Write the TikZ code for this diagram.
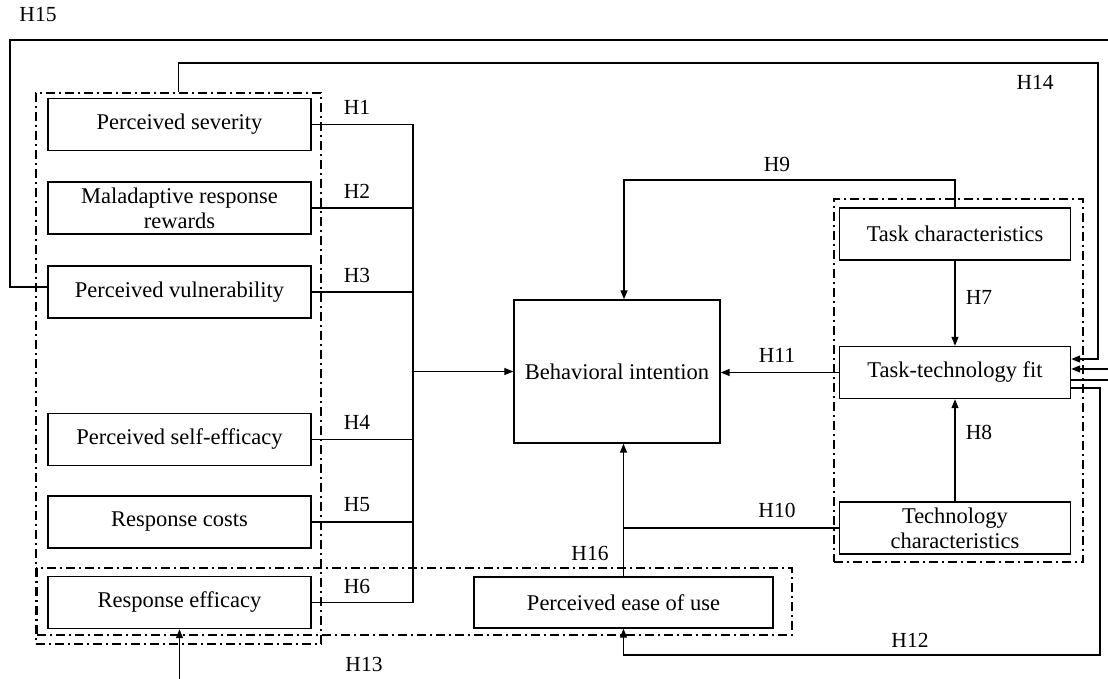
\documentclass[tikz,border=0pt]{standalone}
\usepackage{fontspec}
\setmainfont{Liberation Serif}
\usetikzlibrary{arrows.meta}
\begin{document}
\begin{tikzpicture}[x=1pt,y=-1pt,
  every node/.style={font=\fontsize{22.5}{25}\selectfont, inner sep=0pt},
  box/.style={draw, line width=1.4pt, align=center, minimum height=52pt},
  lbox/.style={box, minimum width=263pt},
  rbox/.style={box, minimum width=231pt},
  grp/.style={draw, line width=1.7pt, dash pattern=on 9pt off 4pt on 2pt off 4pt, minimum width=#1},
  link/.style={line width=1.3pt},
  arr/.style={link, -{Triangle[length=9pt,width=7pt]}},
  hyp/.style={font=\fontsize{21.5}{24}\selectfont}
]
\useasboundingbox (0,0) rectangle (1108,679);

% protection-motivation constructs
\node[lbox] (sev)  at (179.5,124.5) {Perceived severity};
\node[lbox] (mal)  at (179.5,208)   {Maladaptive response\\rewards};
\node[lbox] (vul)  at (179.5,292)   {Perceived vulnerability};
\node[lbox] (self) at (179.5,439.5) {Perceived self-efficacy};
\node[lbox] (cost) at (179.5,522)   {Response costs};
\node[lbox] (eff)  at (179.5,602.5) {Response efficacy};

% central construct and ease of use
\node[box, minimum width=206pt, minimum height=143pt] (bi) at (617,371.5) {Behavioral intention};
\node[box, minimum width=299pt, minimum height=51pt] (ease) at (623.5,602.5) {Perceived ease of use};

% task-technology fit constructs
\node[rbox] (tc)    at (955,234)   {Task characteristics};
\node[rbox] (ttf)   at (955,372.5) {Task-technology fit};
\node[rbox] (techc) at (955,528)   {Technology\\characteristics};

% grouping frames
\node[grp=285pt, minimum height=551pt] (pmt)  at (178.5,368.5) {};
\node[grp=755pt, minimum height=67pt]  (tam)  at (414.5,601.5) {};
\node[grp=249pt, minimum height=363pt] (ttfg) at (958.5,380.5) {};

% H1--H6: bus into behavioral intention
\coordinate (bus) at (413,124.5);
\foreach \n in {sev,mal,vul,self,cost,eff}
  \draw[link] (\n.east) -- (\n.east -| bus);
\draw[link] (sev.east -| bus) -- (eff.east -| bus);
\draw[arr] (bus |- bi.west) -- (bi.west);

% H7, H8, H11
\draw[arr] (tc.south) -- (ttf.north);
\draw[arr] (techc.north) -- (ttf.south);
\draw[arr] (ttf.west) -- (ttf.west -| bi.east);

% H9
\coordinate (h9c) at (624,180);
\draw[arr] (tc.north) |- (h9c) -- (h9c |- bi.north);

% H16 and H10
\draw[arr] (ease.north) -- (ease.north |- bi.south);
\draw[link] (techc.west) -- (techc.west -| ease.north);

% H12
\coordinate (h12c) at (1100,655);
\draw[arr] ([yshift=-15.5pt]ttf.east) -| (h12c) -| (ease.south);

% H14
\coordinate (h14c) at (1098,63);
\draw[arr] (pmt.north) |- (h14c) |- ([yshift=13.5pt]ttf.east);

% H15
\coordinate (h15r) at (1108,40);
\coordinate (h15l) at (10,40);
\draw[link] (h15r) -- (h15l) |- ([yshift=5pt]vul.west);
\coordinate (h15in) at (1108,369);
\draw[arr] (h15in) -- (h15in -| ttf.east);

% H13
\coordinate (h13out) at (1108,380);
\draw[link] (ttf.east |- h13out) -- (h13out);
\coordinate (h13in) at (179.5,679);
\draw[arr] (h13in) -- (eff.south);

% hypothesis labels
\node[hyp] (l1)  at (357,107) {H1};
\node[hyp] (l2)  at (357,191) {H2};
\node[hyp] (l3)  at (357,275) {H3};
\node[hyp] (l4)  at (357,422) {H4};
\node[hyp] (l5)  at (357,505) {H5};
\node[hyp] (l6)  at (357,586) {H6};
\node[hyp] (l7)  at (979,297) {H7};
\node[hyp] (l8)  at (979,432) {H8};
\node[hyp] (l9)  at (777,164) {H9};
\node[hyp] (l10) at (777,510) {H10};
\node[hyp] (l11) at (777,355) {H11};
\node[hyp] (l12) at (910,640) {H12};
\node[hyp] (l13) at (364,664) {H13};
\node[hyp] (l14) at (1035,82) {H14};
\node[hyp] (l15) at (38,15)   {H15};
\node[hyp] (l16) at (590,553) {H16};
\end{tikzpicture}
\end{document}
